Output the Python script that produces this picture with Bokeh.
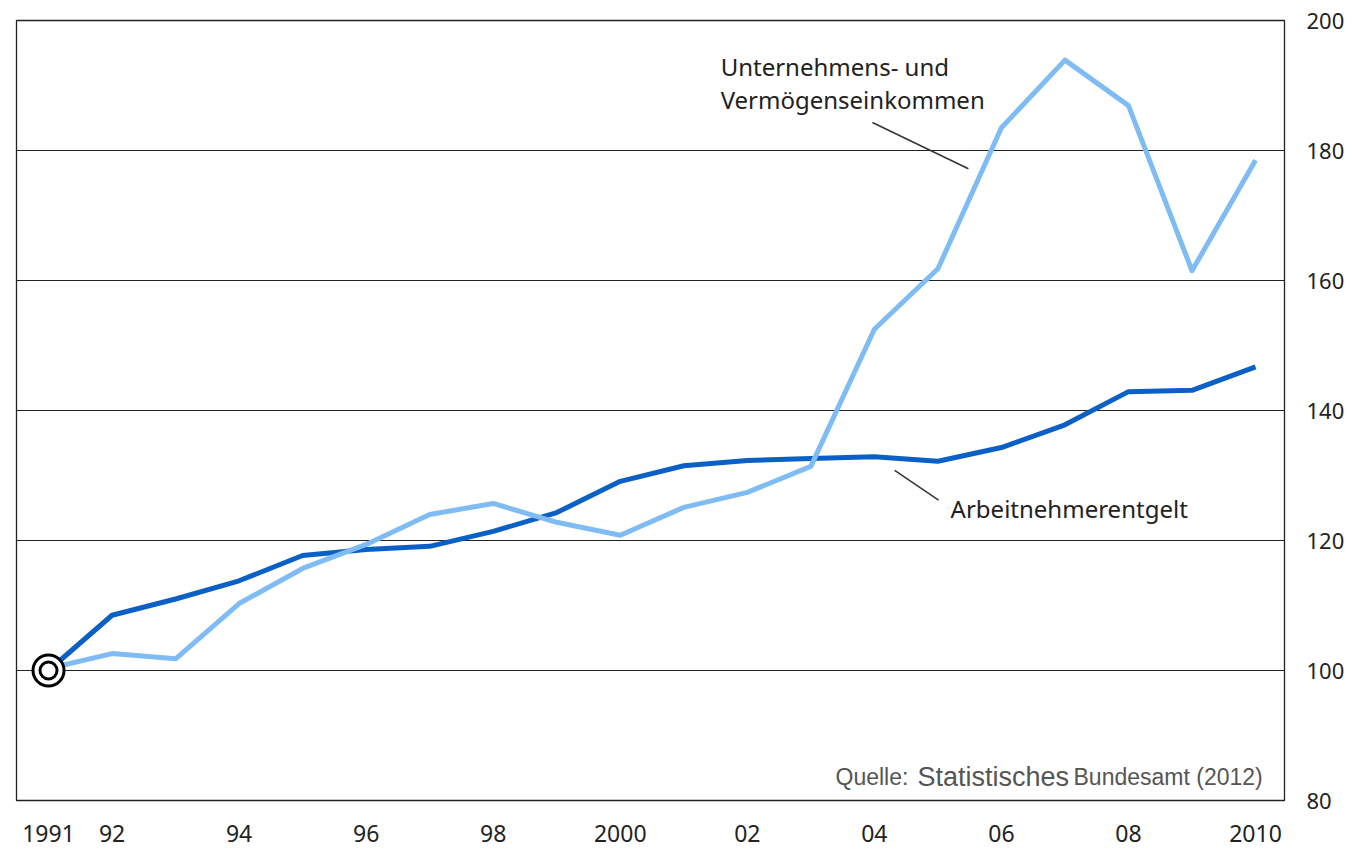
from bokeh.plotting import figure
from bokeh.models import FixedTicker, Range1d
from bokeh.core.properties import value
from bokeh.embed import file_html
from bokeh.resources import INLINE

years = list(range(1991, 2011))
arbeitnehmerentgelt = [100.0, 108.5, 111.0, 113.8, 117.7, 118.6, 119.1, 121.4, 124.3, 129.1,
                       131.5, 132.3, 132.6, 132.9, 132.2, 134.3, 137.8, 142.9, 143.1, 146.7]
unternehmen_vermoegen = [100.3, 102.6, 101.8, 110.3, 115.7, 119.4, 124.0, 125.7, 122.8, 120.8,
                         125.1, 127.4, 131.4, 152.5, 161.8, 183.5, 193.9, 186.9, 161.5, 178.5]
x_ticks = [1991, 1992, 1994, 1996, 1998, 2000, 2002, 2004, 2006, 2008, 2010]
x_tick_labels = ["1991", "92", "94", "96", "98", "2000", "02", "04", "06", "08", "2010"]
y_ticks = [80, 100, 120, 140, 160, 180, 200]
base_year = [1991]
base_value = [100]

FONT = "Noto Sans"
DARK = "#0b60c6"
LIGHT = "#80bcf4"

p = figure(width=1352, height=851, output_backend="svg", toolbar_location=None,
           x_range=Range1d(1990.496, 2010.456), y_range=Range1d(80, 200),
           y_axis_location="right",
           min_border_left=16, min_border_top=20, min_border_right=68, min_border_bottom=51)

p.outline_line_color = "#222222"
p.outline_line_width = 1.3
p.background_fill_color = "white"
p.border_fill_color = "white"

p.xgrid.visible = False
p.ygrid.ticker = FixedTicker(ticks=y_ticks)
p.ygrid.grid_line_color = "#222222"
p.ygrid.grid_line_width = 1.2

p.xaxis.ticker = FixedTicker(ticks=x_ticks)
p.xaxis.major_label_overrides = {t: l for t, l in zip(x_ticks, x_tick_labels)}
p.yaxis.ticker = FixedTicker(ticks=y_ticks)
for ax in (p.xaxis, p.yaxis):
    ax.axis_line_color = None
    ax.major_tick_line_color = None
    ax.minor_tick_line_color = None
    ax.major_tick_out = 0
    ax.major_tick_in = 0
    ax.minor_tick_out = 0
    ax.minor_tick_in = 0
    ax.major_label_text_font = FONT
    ax.major_label_text_color = "#222222"
p.xaxis.major_label_text_font_size = "23px"
p.yaxis.major_label_text_font_size = "22px"
p.xaxis.major_label_standoff = 24
p.yaxis.major_label_standoff = 22

p.line(years, arbeitnehmerentgelt, line_color=DARK, line_width=5, line_join="round")
p.line(years, unternehmen_vermoegen, line_color=LIGHT, line_width=5, line_join="round")

p.scatter(base_year, base_value, size=31, fill_color="white", line_color="black", line_width=3)
p.scatter(base_year, base_value, size=17, fill_color="white", line_color="black", line_width=3)

# leader lines
p.segment(x0=[2003.97, 2004.32], y0=[184.3, 130.8], x1=[2005.48, 2005.01], y1=[177.2, 126.2],
          line_color="#333333", line_width=1.5)

# annotations
p.text(x=[2001.58, 2001.58], y=[193.0, 187.8], text=["Unternehmens- und", "Vermögenseinkommen"],
       text_font=value(FONT), text_font_size="24px", text_color="#222222",
       text_baseline="middle", text_align="left")
p.text(x=[2005.20], y=[124.9], text=["Arbeitnehmerentgelt"],
       text_font=value(FONT), text_font_size="24px", text_color="#222222",
       text_baseline="middle", text_align="left")

# source
p.text(x=[2003.388], y=[83.54], text=["Quelle:"], text_font=value("Liberation Sans"),
       text_font_size="23px", text_color="#555555", text_baseline="middle", text_align="left")
p.text(x=[2004.679], y=[83.54], text=["Statistisches"], text_font=value("Liberation Sans"),
       text_font_size="27px", text_color="#555555", text_baseline="middle", text_align="left")
p.text(x=[2007.135], y=[83.54], text=["Bundesamt (2012)"], text_font=value("Liberation Sans"),
       text_font_size="23px", text_color="#555555", text_baseline="middle", text_align="left")

open("out.html", "w").write(file_html(p, INLINE))
